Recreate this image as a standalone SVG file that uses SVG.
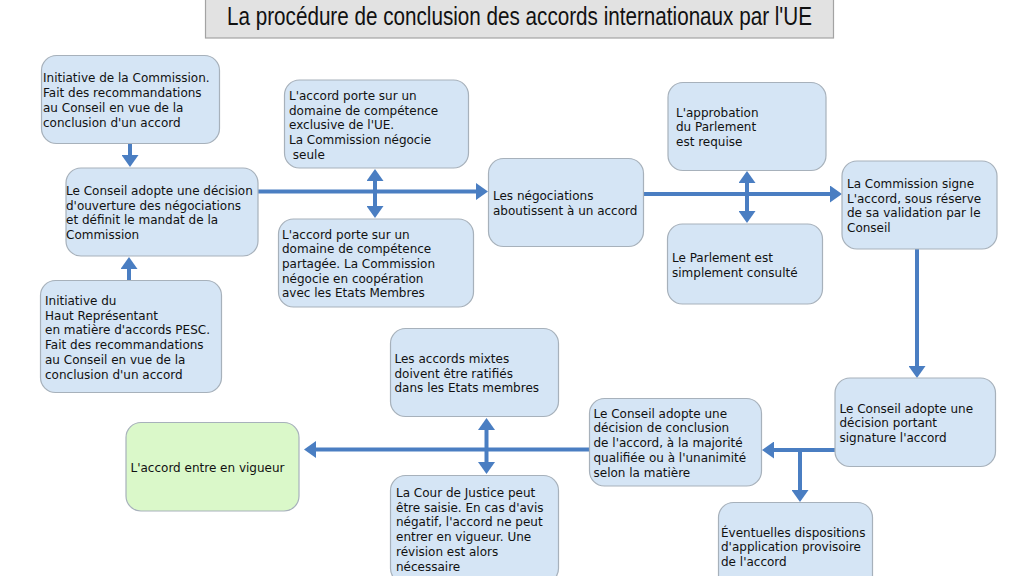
<svg xmlns="http://www.w3.org/2000/svg" width="1024" height="576" viewBox="0 0 1024 576">
<defs>
<style>
.box{fill:#d5e5f5;stroke:#a7b1bb;stroke-width:1.2}
.green{fill:#daf8c9;stroke:#a7b1bb;stroke-width:1.2}
.t{font-family:"DejaVu Sans",Verdana,sans-serif;font-size:12px;fill:#111}
.con{stroke:#4a7ec2;stroke-width:4;fill:none}
.title{font-family:"Liberation Sans",Arial,sans-serif;font-size:25px;fill:#111}
</style>
<marker id="ah" markerUnits="userSpaceOnUse" markerWidth="12" markerHeight="17" viewBox="0 0 12 17" refX="0" refY="8.5" orient="auto-start-reverse">
<path d="M0,0 L12,8.5 L0,17 z" fill="#4a7ec2"/>
</marker>
</defs>
<rect x="0" y="0" width="1024" height="576" fill="#ffffff"/>

<g id="title">
<rect x="205.5" y="-2" width="628" height="40" fill="#e2e2e2" stroke="#a3a3a3" stroke-width="1.2"/>
<text class="title" x="227" y="25" textLength="585" lengthAdjust="spacingAndGlyphs">La procédure de conclusion des accords internationaux par l'UE</text>
</g>

<g id="connectors">
<line class="con" x1="130" y1="143" x2="130" y2="155" marker-end="url(#ah)"/>
<line class="con" x1="129" y1="281" x2="129" y2="269" marker-end="url(#ah)"/>
<line class="con" x1="258" y1="191.5" x2="476" y2="191.5" marker-end="url(#ah)"/>
<line class="con" x1="375" y1="181" x2="375" y2="206" marker-start="url(#ah)" marker-end="url(#ah)"/>
<line class="con" x1="643" y1="194" x2="830" y2="194" marker-end="url(#ah)"/>
<line class="con" x1="747" y1="183" x2="747" y2="211" marker-start="url(#ah)" marker-end="url(#ah)"/>
<line class="con" x1="917" y1="249" x2="917" y2="366" marker-end="url(#ah)"/>
<line class="con" x1="835" y1="450" x2="774" y2="450" marker-end="url(#ah)"/>
<line class="con" x1="800" y1="450" x2="800" y2="490" marker-end="url(#ah)"/>
<line class="con" x1="589" y1="449.5" x2="316" y2="449.5" marker-end="url(#ah)"/>
<line class="con" x1="486.5" y1="430" x2="486.5" y2="462" marker-start="url(#ah)" marker-end="url(#ah)"/>
</g>

<g id="n-init-commission">
<rect class="box" x="41.5" y="55.5" width="178" height="88" rx="15"/>
<text class="t" x="43"><tspan x="43" y="82">Initiative de la Commission.</tspan><tspan x="43" y="97">Fait des recommandations</tspan><tspan x="43" y="112">au Conseil en vue de la</tspan><tspan x="43" y="127">conclusion d'un accord</tspan></text>
</g>

<g id="n-conseil-ouverture">
<rect class="box" x="66" y="168" width="192" height="88" rx="15"/>
<text class="t"><tspan x="66" y="195">Le Conseil adopte une décision</tspan><tspan x="66" y="209.7">d'ouverture des négociations</tspan><tspan x="66" y="224.4">et définit le mandat de la</tspan><tspan x="66" y="239.1">Commission</tspan></text>
</g>

<g id="n-init-hr">
<rect class="box" x="40.5" y="280.5" width="181" height="112" rx="15"/>
<text class="t"><tspan x="45" y="305">Initiative du</tspan><tspan x="45" y="319.7">Haut Représentant</tspan><tspan x="45" y="334.4">en matière d'accords PESC.</tspan><tspan x="45" y="349.1">Fait des recommandations</tspan><tspan x="45" y="363.8">au Conseil en vue de la</tspan><tspan x="45" y="378.5">conclusion d'un accord</tspan></text>
</g>

<g id="n-exclusive">
<rect class="box" x="284.5" y="80" width="184" height="88" rx="15"/>
<text class="t"><tspan x="289" y="100">L'accord porte sur un</tspan><tspan x="289" y="114.7">domaine de compétence</tspan><tspan x="289" y="129.4">exclusive de l'UE.</tspan><tspan x="289" y="144.1">La Commission négocie</tspan><tspan x="289" y="158.8"> seule</tspan></text>
</g>

<g id="n-partagee">
<rect class="box" x="278.5" y="219" width="195" height="88" rx="15"/>
<text class="t"><tspan x="282" y="238.5">L'accord porte sur un</tspan><tspan x="282" y="253.2">domaine de compétence</tspan><tspan x="282" y="267.9">partagée. La Commission</tspan><tspan x="282" y="282.6">négocie en coopération</tspan><tspan x="282" y="297.3">avec les Etats Membres</tspan></text>
</g>

<g id="n-negociations">
<rect class="box" x="488.5" y="158.5" width="155" height="88" rx="15"/>
<text class="t"><tspan x="493" y="200">Les négociations</tspan><tspan x="493" y="214.7">aboutissent à un accord</tspan></text>
</g>

<g id="n-approbation">
<rect class="box" x="668" y="82.5" width="158" height="88" rx="15"/>
<text class="t"><tspan x="676" y="116.5">L'approbation</tspan><tspan x="676" y="131.2">du Parlement</tspan><tspan x="676" y="145.9">est requise</tspan></text>
</g>

<g id="n-consulte">
<rect class="box" x="667.5" y="224" width="155" height="80" rx="15"/>
<text class="t"><tspan x="672" y="262">Le Parlement est</tspan><tspan x="672" y="276.7">simplement consulté</tspan></text>
</g>

<g id="n-commission-signe">
<rect class="box" x="842" y="161" width="155" height="88" rx="15"/>
<text class="t"><tspan x="847" y="188">La Commission signe</tspan><tspan x="847" y="202.5">L'accord, sous réserve</tspan><tspan x="847" y="217">de sa validation par le</tspan><tspan x="847" y="231.5">Conseil</tspan></text>
</g>

<g id="n-signature">
<rect class="box" x="835" y="378" width="160.5" height="88.5" rx="15"/>
<text class="t"><tspan x="839.5" y="412.5">Le Conseil adopte une</tspan><tspan x="839.5" y="427">décision portant</tspan><tspan x="839.5" y="441.5">signature l'accord</tspan></text>
</g>

<g id="n-conclusion">
<rect class="box" x="589.5" y="398.5" width="172" height="87.5" rx="15"/>
<text class="t"><tspan x="593.5" y="417.5">Le Conseil adopte une</tspan><tspan x="593.5" y="432.3">décision de conclusion</tspan><tspan x="593.5" y="447.1">de l'accord, à la majorité</tspan><tspan x="593.5" y="461.9">qualifiée ou à l'unanimité</tspan><tspan x="593.5" y="476.7">selon la matière</tspan></text>
</g>

<g id="n-provisoire">
<rect class="box" x="718.5" y="502.5" width="154" height="90" rx="15"/>
<text class="t"><tspan x="721" y="536.5">Éventuelles dispositions</tspan><tspan x="721" y="551">d'application provisoire</tspan><tspan x="721" y="565.5">de l'accord</tspan></text>
</g>

<g id="n-mixtes">
<rect class="box" x="390.5" y="328.5" width="168" height="88" rx="15"/>
<text class="t"><tspan x="394.5" y="363">Les accords mixtes</tspan><tspan x="394.5" y="377.6">doivent être ratifiés</tspan><tspan x="394.5" y="392.2">dans les Etats membres</tspan></text>
</g>

<g id="n-cour">
<rect class="box" x="390.5" y="475.5" width="168" height="108" rx="15"/>
<text class="t"><tspan x="396" y="497">La Cour de Justice peut</tspan><tspan x="396" y="511.7">être saisie. En cas d'avis</tspan><tspan x="396" y="526.4">négatif, l'accord ne peut</tspan><tspan x="396" y="541.1">entrer en vigueur. Une</tspan><tspan x="396" y="555.8">révision est alors</tspan><tspan x="396" y="570.5">nécessaire</tspan></text>
</g>

<g id="n-vigueur">
<rect class="green" x="126" y="422.5" width="173" height="88.5" rx="15"/>
<text class="t" x="130.5" y="472">L'accord entre en vigueur</text>
</g>
</svg>
